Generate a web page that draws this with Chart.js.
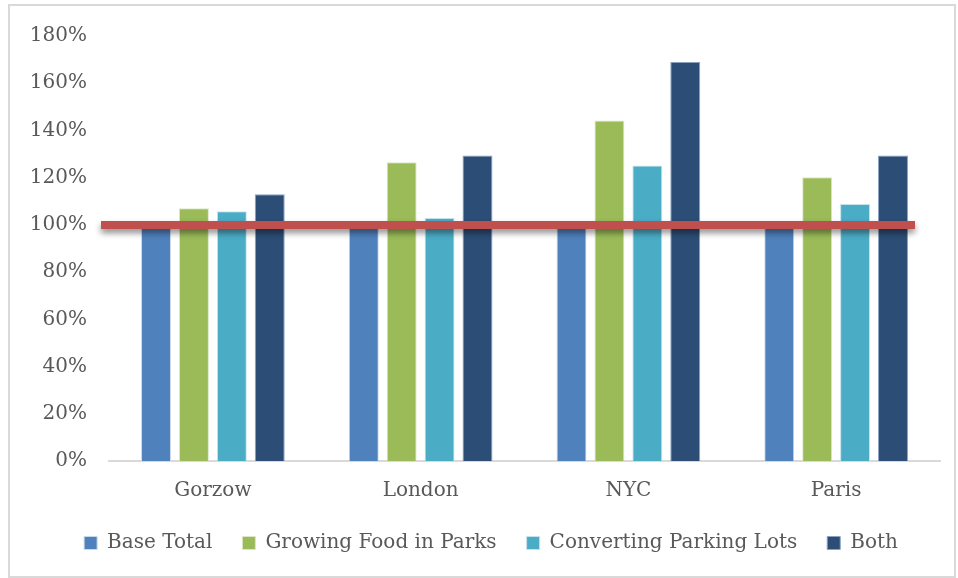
<!DOCTYPE html>
<html>
<head>
<meta charset="utf-8">
<script src="https://cdn.jsdelivr.net/npm/chart.js@4"></script>
<style>
body{margin:0;background:#fff;}
#frame{position:absolute;left:8px;top:4px;width:944px;height:570px;border:2px solid #d9d9d9;}
#wrap{position:absolute;left:0;top:0;width:958px;height:578px;}
</style>
</head>
<body>
<div id="frame"></div>
<div id="wrap"><canvas id="chart" width="958" height="578"></canvas></div>
<script>
// categories and series (percent)
const cities = ["Gorzow", "London", "NYC", "Paris"];
const baseTotal = [100, 100, 100, 100];
const growingFood = [107, 126.5, 144.2, 120.2];
const parkingLots = [105.8, 102.9, 125.2, 108.8];
const both = [113, 129.4, 169, 129.4];
const threshold = 100;

const font = "'DejaVu Serif', serif";
const textColor = "#595959";

// red 100% marker with a soft shadow
const thresholdLine = {
  id: "thresholdLine",
  afterDatasetsDraw(chart){
    const ctx = chart.ctx;
    const area = chart.chartArea;
    const y = chart.scales.y.getPixelForValue(threshold);
    ctx.save();
    ctx.shadowColor = "rgba(0,0,0,0.45)";
    ctx.shadowBlur = 6;
    ctx.shadowOffsetY = 4;
    ctx.strokeStyle = "#C0504D";
    ctx.lineWidth = 8;
    ctx.beginPath();
    ctx.moveTo(area.left - 8, y);
    ctx.lineTo(area.right - 25, y);
    ctx.stroke();
    ctx.restore();
  }
};

// legend sits a bit right of the canvas centre
const legendShift = {
  id: "legendShift",
  afterLayout(chart){
    chart.legend.left += 21;
    chart.legend.right += 21;
  }
};

new Chart(document.getElementById("chart"), {
  type: "bar",
  data: {
    labels: cities,
    datasets: [
      {label: "Base Total", data: baseTotal, backgroundColor: "#4F81BD", borderColor: "#c9d8ea", borderWidth: 1},
      {label: "Growing Food in Parks", data: growingFood, backgroundColor: "#9BBB59", borderColor: "#dbe7c6", borderWidth: 1},
      {label: "Converting Parking Lots", data: parkingLots, backgroundColor: "#4BACC6", borderColor: "#c6e3ec", borderWidth: 1},
      {label: "Both", data: both, backgroundColor: "#2C4D75", borderColor: "#8aa2c0", borderWidth: 1}
    ]
  },
  options: {
    responsive: false,
    animation: false,
    barPercentage: 0.79,
    categoryPercentage: 0.73,
    layout: {padding: {top: 36, right: 18, bottom: 15, left: 0}},
    plugins: {
      legend: {
        position: "bottom",
        labels: {
          boxWidth: 13,
          boxHeight: 13,
          padding: 30,
          color: textColor,
          font: {family: font, size: 20}
        }
      },
      tooltip: {enabled: false}
    },
    scales: {
      x: {
        grid: {display: false},
        border: {color: "#d9d9d9", width: 2},
        afterFit: s => { s.height -= 10; },
        ticks: {color: textColor, padding: 10, font: {family: font, size: 20}}
      },
      y: {
        min: 0,
        max: 180,
        grid: {display: false},
        border: {display: false},
        afterFit: s => { s.width = 109; },
        ticks: {
          stepSize: 20,
          padding: 14,
          color: textColor,
          font: {family: font, size: 20},
          callback: v => v + "%"
        }
      }
    }
  },
  plugins: [thresholdLine, legendShift]
});
</script>
</body>
</html>
